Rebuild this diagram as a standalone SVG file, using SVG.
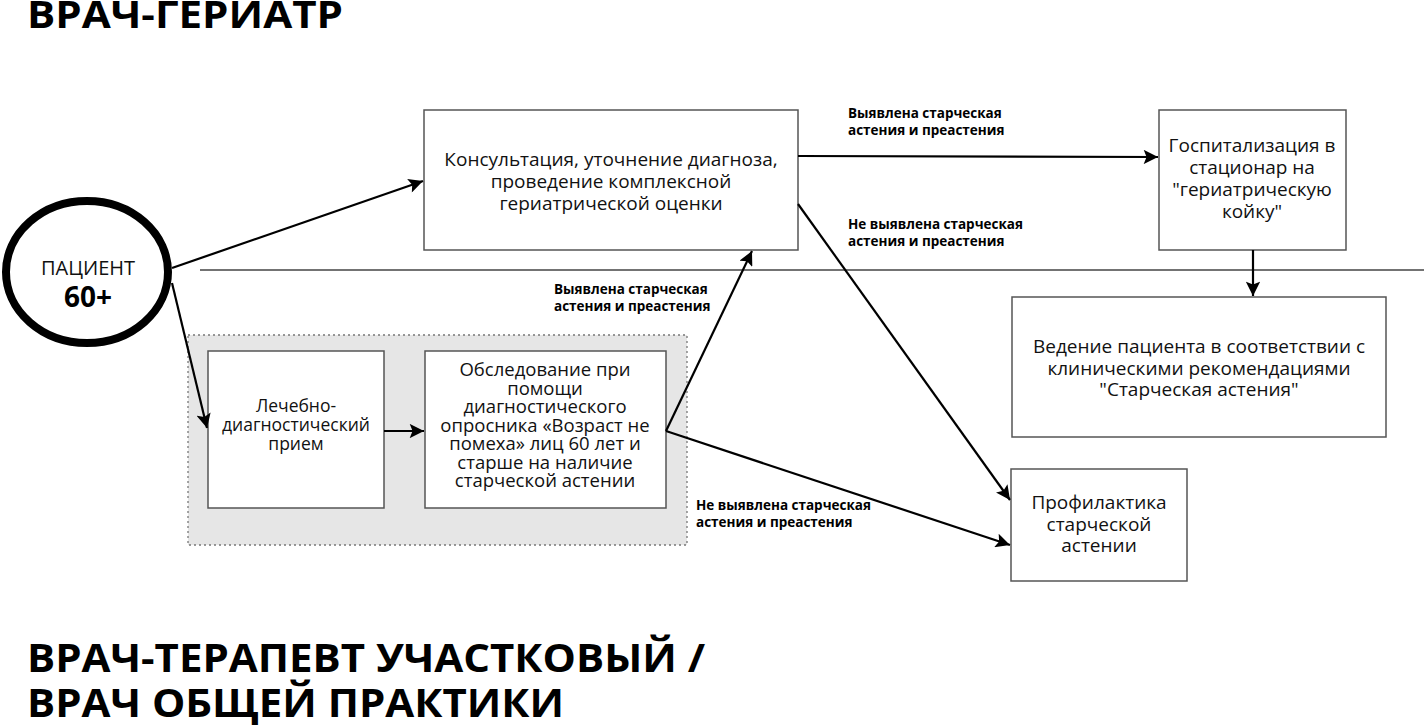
<svg xmlns="http://www.w3.org/2000/svg" width="1424" height="725" viewBox="0 0 1424 725">
<defs>
<marker id="ah" viewBox="0 0 10 10" refX="10" refY="5" markerWidth="7" markerHeight="6.5" markerUnits="strokeWidth" orient="auto">
<path d="M0,0 L10,5 L0,10 L2,5 z" fill="#000"/>
</marker>
<style>
.box{fill:#fff;stroke:#555;stroke-width:1.5}
.t{font-family:"Open Sans","Noto Sans","Liberation Sans",sans-serif;font-size:19px;fill:#111;text-anchor:middle}
.lbl{font-family:"Open Sans","Noto Sans","Liberation Sans",sans-serif;font-size:13.5px;font-weight:bold;fill:#000}
.title{font-family:"Open Sans","Noto Sans","Liberation Sans",sans-serif;font-weight:bold;fill:#000}
.conn{stroke:#000;stroke-width:2.2;fill:none;marker-end:url(#ah)}
</style>
</defs>
<rect width="1424" height="725" fill="#fff"/>
<text class="title" x="27" y="28" style="font-size:38px" textLength="316" lengthAdjust="spacingAndGlyphs">ВРАЧ-ГЕРИАТР</text>
<text class="title" x="27" y="672" style="font-size:40px" textLength="678" lengthAdjust="spacingAndGlyphs">ВРАЧ-ТЕРАПЕВТ УЧАСТКОВЫЙ /</text>
<text class="title" x="27" y="717" style="font-size:40px" textLength="537" lengthAdjust="spacingAndGlyphs">ВРАЧ ОБЩЕЙ ПРАКТИКИ</text>
<line x1="200" y1="270" x2="1424" y2="270" stroke="#444" stroke-width="1.3"/>
<g id="group-therapist">
<rect x="188" y="335" width="499" height="210" fill="#e6e6e6" stroke="#777" stroke-width="1.3" stroke-dasharray="2,3"/>
</g>
<g id="patient">
<ellipse cx="87" cy="272" rx="81" ry="71" fill="#fff" stroke="#000" stroke-width="8"/>
<text class="t" x="88" y="275" style="font-size:20px">ПАЦИЕНТ</text>
<text class="t" x="88" y="307" style="font-size:28px;font-weight:bold;fill:#000">60+</text>
</g>
<g id="consult">
<rect class="box" x="424" y="110" width="374" height="140"/>
<text class="t" x="611" y="166">Консультация, уточнение диагноза,</text>
<text class="t" x="611" y="188">проведение комплексной</text>
<text class="t" x="611" y="210">гериатрической оценки</text>
</g>
<g id="hospital">
<rect class="box" x="1159" y="110" width="187" height="140"/>
<text class="t" x="1252" y="152">Госпитализация в</text>
<text class="t" x="1252" y="174">стационар на</text>
<text class="t" x="1252" y="196">"гериатрическую</text>
<text class="t" x="1252" y="218">койку"</text>
</g>
<g id="management">
<rect class="box" x="1012" y="297" width="374" height="140"/>
<text class="t" x="1199" y="353">Ведение пациента в соответствии с</text>
<text class="t" x="1199" y="375">клиническими рекомендациями</text>
<text class="t" x="1199" y="396">"Старческая астения"</text>
</g>
<g id="prevention">
<rect class="box" x="1011" y="469" width="176" height="112"/>
<text class="t" x="1099" y="509">Профилактика</text>
<text class="t" x="1099" y="531">старческой</text>
<text class="t" x="1099" y="552">астении</text>
</g>
<g id="reception">
<rect class="box" x="208" y="351" width="176" height="157"/>
<text class="t" x="296" y="412" style="font-size:17.5px">Лечебно-</text>
<text class="t" x="296" y="431" style="font-size:17.5px">диагностический</text>
<text class="t" x="296" y="450" style="font-size:17.5px">прием</text>
</g>
<g id="survey">
<rect class="box" x="425" y="351" width="241" height="157"/>
<text class="t" x="545" y="376" style="font-size:18.5px">Обследование при</text>
<text class="t" x="545" y="394.5" style="font-size:18.5px">помощи</text>
<text class="t" x="545" y="413" style="font-size:18.5px">диагностического</text>
<text class="t" x="545" y="431.5" style="font-size:18.5px">опросника «Возраст не</text>
<text class="t" x="545" y="450" style="font-size:18.5px">помеха» лиц 60 лет и</text>
<text class="t" x="545" y="468.5" style="font-size:18.5px">старше на наличие</text>
<text class="t" x="545" y="487" style="font-size:18.5px">старческой астении</text>
</g>
<g id="connectors">
<line class="conn" x1="172" y1="268" x2="423" y2="181"/>
<line class="conn" x1="172" y1="283" x2="207" y2="428"/>
<line class="conn" x1="384" y1="431" x2="424" y2="431"/>
<line class="conn" x1="666" y1="431" x2="752" y2="251"/>
<line class="conn" x1="666" y1="431" x2="1010" y2="545"/>
<line class="conn" x1="798" y1="156" x2="1158" y2="157"/>
<line class="conn" x1="798" y1="204" x2="1010" y2="500"/>
<line class="conn" x1="1253" y1="250" x2="1253" y2="296"/>
</g>
<g id="labels">
<text class="lbl" x="848" y="118">Выявлена старческая</text>
<text class="lbl" x="848" y="135">астения и преастения</text>
<text class="lbl" x="848" y="229">Не выявлена старческая</text>
<text class="lbl" x="848" y="246">астения и преастения</text>
<text class="lbl" x="554" y="294">Выявлена старческая</text>
<text class="lbl" x="554" y="311">астения и преастения</text>
<text class="lbl" x="696" y="510">Не выявлена старческая</text>
<text class="lbl" x="696" y="527">астения и преастения</text>
</g>
</svg>
